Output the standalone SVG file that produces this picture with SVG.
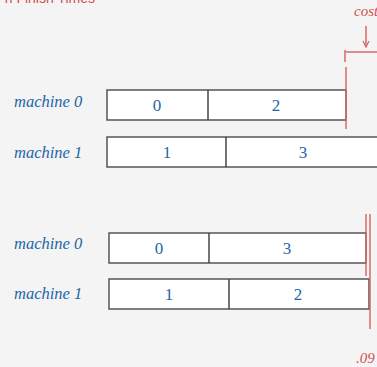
<svg xmlns="http://www.w3.org/2000/svg" width="377" height="367" viewBox="0 0 377 367">
<style>
.bg{fill:#f4f4f4}
.box{fill:#ffffff;stroke:#555555;stroke-width:1.5}
.div{stroke:#444444;stroke-width:1.5}
.lbl{font-family:"Liberation Serif",serif;font-style:italic;font-size:16.5px;fill:#2366a6}
.num{font-family:"Liberation Serif",serif;font-size:17px;fill:#2366a6;text-anchor:middle}
.red{stroke:#d9686a;stroke-width:1.5;fill:none}
.rtxt{font-family:"Liberation Serif",serif;font-style:italic;font-size:15px;fill:#d05050}
.title{font-family:"Liberation Sans",sans-serif;font-size:14px;fill:#d05050}
</style>
<defs>
<marker id="ah" markerWidth="8" markerHeight="8" refX="7" refY="4" orient="auto" markerUnits="userSpaceOnUse">
<path d="M1,1 L7,4 L1,7" fill="none" stroke="#d9686a" stroke-width="1.3"/>
</marker>
</defs>
<rect class="bg" x="0" y="0" width="377" height="367"/>
<text class="title" x="95" y="3" text-anchor="end">n Finish Times</text>

<g id="top-m0-label"><text class="lbl" x="14" y="107">machine 0</text></g>
<g id="top-m1-label"><text class="lbl" x="14" y="158">machine 1</text></g>
<g id="top-m0">
<rect class="box" x="107" y="90" width="239" height="30"/>
<line class="div" x1="208" y1="90" x2="208" y2="120"/>
<text class="num" x="157" y="111">0</text>
<text class="num" x="276" y="111">2</text>
</g>
<g id="top-m1">
<rect class="box" x="107" y="137" width="280" height="30"/>
<line class="div" x1="226" y1="137" x2="226" y2="167"/>
<text class="num" x="167" y="158">1</text>
<text class="num" x="303" y="158">3</text>
</g>

<g id="bot-m0-label"><text class="lbl" x="14" y="249">machine 0</text></g>
<g id="bot-m1-label"><text class="lbl" x="14" y="299">machine 1</text></g>
<g id="bot-m0">
<rect class="box" x="109" y="233" width="257" height="30"/>
<line class="div" x1="209" y1="233" x2="209" y2="263"/>
<text class="num" x="159" y="254">0</text>
<text class="num" x="287" y="254">3</text>
</g>
<g id="bot-m1">
<rect class="box" x="109" y="279" width="260" height="30"/>
<line class="div" x1="229" y1="279" x2="229" y2="309"/>
<text class="num" x="169" y="300">1</text>
<text class="num" x="298" y="300">2</text>
</g>

<g id="connectors">
<text class="rtxt" x="354" y="16">cost</text>
<line class="red" x1="366" y1="26" x2="366" y2="47" marker-end="url(#ah)"/>
<line class="red" x1="345" y1="50" x2="345" y2="62"/>
<line class="red" x1="346" y1="52" x2="377" y2="52"/>
<line class="red" x1="346" y1="67" x2="346" y2="129"/>
<line class="red" x1="366" y1="214" x2="366" y2="276"/>
<line class="red" x1="370" y1="214" x2="370" y2="329"/>
<text class="rtxt" x="356" y="363">.09</text>
</g>
</svg>
